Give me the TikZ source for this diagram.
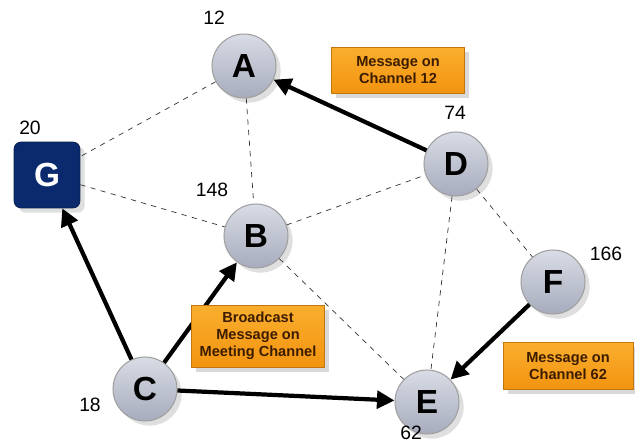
\documentclass[tikz,border=0pt]{standalone}
\usepackage{fontspec}
\setmainfont{Liberation Sans}
\usepackage{tikz}
\usetikzlibrary{arrows.meta, shadows}
\definecolor{navy}{HTML}{0B2A6E}
\definecolor{boxtop}{HTML}{FAAE2E}
\definecolor{boxbottom}{HTML}{F29410}
\definecolor{boxtext}{HTML}{3C1C00}
\definecolor{balltop}{HTML}{D9DCE5}
\definecolor{ballbottom}{HTML}{A7ACBD}

\begin{document}
\begin{tikzpicture}[x=0.02cm, y=-0.02cm,
    station/.style={circle, minimum size=1.28cm, inner sep=0pt, draw=gray!75, line width=0.6pt,
        top color=balltop, bottom color=ballbottom, drop shadow={opacity=0.25},
        font=\fontsize{19}{19}\selectfont\bfseries},
    gateway/.style={rectangle, rounded corners=4pt, minimum size=1.32cm, inner sep=0pt,
        fill=navy, draw=navy!70!black, text=white, drop shadow={opacity=0.25},
        font=\fontsize{19}{19}\selectfont\bfseries},
    msgbox/.style={rectangle, top color=boxtop, bottom color=boxbottom, draw=boxbottom!80!black,
        line width=0.4pt, text=boxtext, align=center, inner sep=1pt, drop shadow={opacity=0.3},
        font=\fontsize{8.3}{9.6}\selectfont\bfseries},
    chan/.style={font=\fontsize{11}{11}\selectfont},
    link/.style={dashed, thin, black!80},
    send/.style={-{Triangle[length=10pt, width=10pt]}, line width=2.4pt}]
    \useasboundingbox (0,0) rectangle (635,442);

    % Draw the stations
    \foreach \n/\x/\y in {A/244/66, B/256/236, D/456/164, F/553/282, C/145/389, E/427/402}
        \node[station] (\n) at (\x,\y) {\n};
    \node[gateway] (G) at (47,175) {G};

    % Add channel labels
    \foreach \n/\t/\x/\y in {A/12/214/18, G/20/30/128, B/148/212/190, D/74/455/113, F/166/606/254, C/18/90/405, E/62/411/433}
        \node[chan] (lbl\n) at (\x,\y) {\t};

    % Draw dashed neighbour links
    \foreach \a/\b in {A/G, A/B, G/B, B/D, B/E, D/E, D/F}
        \draw[link] (\a) -- (\b);

    % Draw messages
    \draw[send] (C) -- (G);
    \draw[send] (C) -- (B);
    \draw[send] (C) -- (E);
    \draw[send] (D) -- (A);
    \draw[send] (F) -- (E);

    % Message boxes
    \node[msgbox, minimum width=2.66cm, minimum height=0.92cm] (msgA) at (398,70) {Message on\\Channel 12};
    \node[msgbox, minimum width=2.66cm, minimum height=1.24cm] (msgC) at (258,336) {Broadcast\\Message on\\Meeting Channel};
    \node[msgbox, minimum width=2.6cm, minimum height=0.94cm] (msgF) at (568,366) {Message on\\Channel 62};
\end{tikzpicture}
\end{document}
